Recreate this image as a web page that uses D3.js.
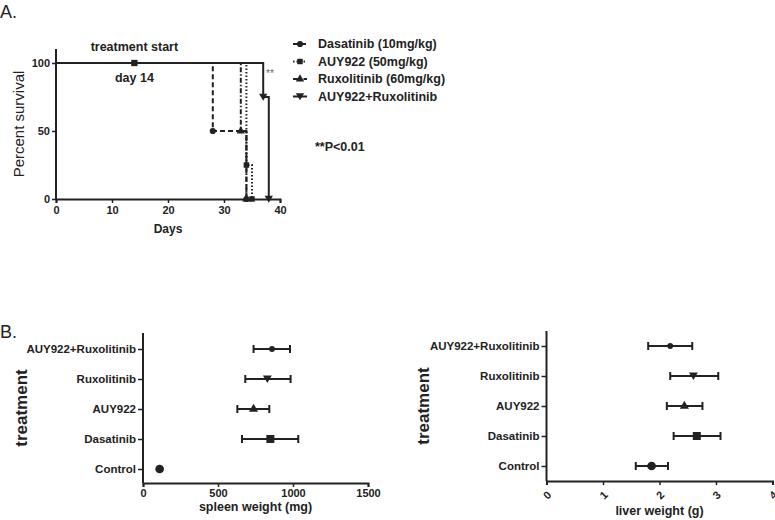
<!DOCTYPE html>
<html>
<head>
<meta charset="utf-8">
<script src="https://cdn.jsdelivr.net/npm/d3@7"></script>
<style>
  body { margin: 0; background: #fff; }
  svg { font-family: "Liberation Sans", Arial, sans-serif; }
  .axis path, .axis line { stroke: #222; stroke-width: 2px; }
  .axis text { font-size: 11px; font-weight: bold; fill: #222; }
  .lbl { font-weight: bold; fill: #222; }
</style>
</head>
<body>
<div class="chart"></div>
<script>
// survival data (panel A)
var survNames = ["Dasatinib (10mg/kg)", "AUY922 (50mg/kg)", "Ruxolitinib (60mg/kg)", "AUY922+Ruxolitinib"];
var survDays = [[0, 28, 34], [0, 34, 35], [0, 33, 34], [0, 37, 38]];
var survPct = [[100, 50, 0], [100, 25, 0], [100, 50, 0], [100, 75, 0]];
var survDash = ["5,3", "1.5,2", "5,2,1.5,2", null];
var dayTicks = [0, 10, 20, 30, 40];
var pctTicks = [0, 50, 100];
var startDay = 14;

// organ weights (panel B)
var treatments = ["Control", "Dasatinib", "AUY922", "Ruxolitinib", "AUY922+Ruxolitinib"];
var spleenMean = [111, 849, 737, 829, 860];
var spleenLow = [111, 660, 629, 682, 737];
var spleenHigh = [111, 1035, 842, 984, 980];
var spleenTicks = [0, 500, 1000, 1500];
var liverMean = [1.86, 2.66, 2.44, 2.60, 2.19];
var liverLow = [1.58, 2.25, 2.13, 2.19, 1.80];
var liverHigh = [2.15, 3.08, 2.76, 3.04, 2.58];
var liverTicks = [0, 1, 2, 3, 4];

var ink = "#222";
var triDown = {
    draw: function (ctx, size) {
        var r = Math.sqrt(size / 0.433) / 2;
        ctx.moveTo(-r, -r * 0.8);
        ctx.lineTo(r, -r * 0.8);
        ctx.lineTo(0, r * 0.9);
        ctx.closePath();
    }
};
var survSymbols = [d3.symbolCircle, d3.symbolSquare, d3.symbolTriangle, triDown];
var treatSymbols = [d3.symbolCircle, d3.symbolSquare, d3.symbolTriangle, triDown, d3.symbolCircle];
var treatSizes = [60, 64, 36, 34, 26];

var svg = d3.select(".chart").append("svg")
    .attr("width", 775)
    .attr("height", 520);

svg.append("text").attr("x", 0).attr("y", 18).style("font-size", "18px").style("fill", ink).text("A.");
svg.append("text").attr("x", 0).attr("y", 338).style("font-size", "18px").style("fill", ink).text("B.");

// ---------- panel A ----------
var x = d3.scaleLinear().domain([0, 40]).range([56, 280]);
var y = d3.scaleLinear().domain([0, 100]).range([199, 63]);

svg.append("g").attr("class", "axis")
    .attr("transform", "translate(0,199)")
    .call(d3.axisBottom(x).tickValues(dayTicks).tickFormat(d => d).tickSizeOuter(0).tickSize(4).tickPadding(3));

var gy = svg.append("g").attr("class", "axis")
    .attr("transform", "translate(56,0)")
    .call(d3.axisLeft(y).tickValues(pctTicks).tickFormat(d => d).tickSizeOuter(0).tickSize(4).tickPadding(2));
gy.select(".domain").attr("d", "M0," + y(0) + "V" + (y(100) - 14));
svg.selectAll(".axis line").style("stroke-width", "1.5px");

var stepLine = d3.line()
    .x(d => x(d[0]))
    .y(d => y(d[1]))
    .curve(d3.curveStepAfter);

survNames.forEach(function (name, i) {
    var pts = survDays[i].map((d, j) => [d, survPct[i][j]]);
    svg.append("path")
        .attr("d", stepLine(pts))
        .attr("fill", "none")
        .attr("stroke", ink)
        .attr("stroke-width", 2)
        .attr("stroke-dasharray", survDash[i]);
    svg.selectAll(null)
        .data(pts.slice(1))
        .enter()
        .append("path")
        .attr("transform", d => `translate(${x(d[0])},${y(d[1])})`)
        .attr("d", d3.symbol().type(survSymbols[i]).size(30))
        .attr("fill", ink);
});

svg.append("path")
    .attr("transform", `translate(${x(startDay)},${y(100)})`)
    .attr("d", d3.symbol().type(d3.symbolSquare).size(40))
    .attr("fill", ink);
svg.append("text").attr("class", "lbl").attr("x", x(startDay)).attr("y", 51)
    .attr("text-anchor", "middle").style("font-size", "12.5px").text("treatment start");
svg.append("text").attr("class", "lbl").attr("x", x(startDay)).attr("y", 82)
    .attr("text-anchor", "middle").style("font-size", "12.5px").text("day " + startDay);
svg.append("text").attr("x", 266).attr("y", 77)
    .style("font-size", "10px").style("fill", "#666").text("**");
svg.append("text").attr("class", "lbl").attr("x", 315).attr("y", 151)
    .style("font-size", "12.5px").text("**P<0.01");
svg.append("text").attr("class", "lbl").attr("x", 168).attr("y", 233)
    .attr("text-anchor", "middle").style("font-size", "12px").text("Days");
svg.append("text")
    .attr("transform", "translate(24,124) rotate(-90)")
    .attr("text-anchor", "middle")
    .style("font-size", "15px").style("fill", ink)
    .text("Percent survival");

// legend
var legend = svg.selectAll(".leg")
    .data(survNames)
    .enter()
    .append("g")
    .attr("transform", (d, i) => `translate(293,${44 + i * 17.5})`);
legend.append("line")
    .attr("x1", 0).attr("x2", 14)
    .attr("stroke", ink).attr("stroke-width", 2)
    .attr("stroke-dasharray", (d, i) => survDash[i]);
legend.append("path")
    .attr("transform", "translate(7,0)")
    .attr("d", (d, i) => d3.symbol().type(survSymbols[i]).size(30)())
    .attr("fill", ink);
legend.append("text")
    .attr("class", "lbl")
    .attr("x", 25).attr("dy", "0.35em")
    .style("font-size", "12.5px")
    .text(d => d);

// ---------- panel B ----------
function dotPlot(opt) {
    var xs = d3.scaleLinear().domain(opt.domain).range(opt.xr);
    var ys = d3.scalePoint().domain(treatments).range(opt.yr);

    var ax = svg.append("g").attr("class", "axis")
        .attr("transform", `translate(0,${opt.base})`)
        .call(d3.axisBottom(xs).tickValues(opt.ticks).tickFormat(d => d).tickSizeOuter(0).tickSize(4).tickPadding(2));
    if (opt.rotate) {
        ax.selectAll("text")
            .attr("dy", null).attr("y", null)
            .attr("text-anchor", "middle")
            .attr("transform", "translate(0,14) rotate(-45)")
            .attr("dominant-baseline", "central");
    }
    var ay = svg.append("g").attr("class", "axis")
        .attr("transform", `translate(${opt.xr[0]},0)`)
        .call(d3.axisLeft(ys).tickSizeOuter(0).tickSize(5).tickPadding(2));
    ay.select(".domain").attr("d", `M0,${opt.base}V${opt.top}`);
    ay.selectAll("text").style("font-size", "11.5px");
    svg.selectAll(".axis line").style("stroke-width", "1.5px");

    var rows = treatments.map((t, i) => ({
        t: t, i: i, m: opt.mean[i], lo: opt.low[i], hi: opt.high[i]
    }));
    var g = svg.append("g");
    var bars = rows.filter(d => d.hi > d.lo);
    g.selectAll(".eb").data(bars).enter().append("path")
        .attr("d", d => `M${xs(d.lo)},${ys(d.t)}H${xs(d.hi)}` +
            `M${xs(d.lo)},${ys(d.t) - 4}V${ys(d.t) + 4}` +
            `M${xs(d.hi)},${ys(d.t) - 4}V${ys(d.t) + 4}`)
        .attr("fill", "none").attr("stroke", ink).attr("stroke-width", 2);
    g.selectAll(".pt").data(rows).enter().append("path")
        .attr("transform", d => `translate(${xs(d.m)},${ys(d.t)})`)
        .attr("d", d => d3.symbol().type(treatSymbols[d.i]).size(treatSizes[d.i])())
        .attr("fill", ink);

    svg.append("text").attr("class", "lbl")
        .attr("x", (opt.xr[0] + opt.xr[1]) / 2).attr("y", opt.titleY)
        .attr("text-anchor", "middle").style("font-size", "12.5px")
        .text(opt.title);
    svg.append("text").attr("class", "lbl")
        .attr("transform", `translate(${opt.yLabelX},${(opt.top + opt.base) / 2}) rotate(-90)`)
        .attr("text-anchor", "middle").style("font-size", "17px")
        .text("treatment");
}

dotPlot({
    domain: [0, 1500], xr: [143, 368], yr: [469, 349], base: 483, top: 333,
    ticks: spleenTicks, mean: spleenMean, low: spleenLow, high: spleenHigh,
    title: "spleen weight (mg)", titleY: 511, yLabelX: 27, rotate: false
});
dotPlot({
    domain: [0, 4], xr: [546.5, 772.5], yr: [466, 346], base: 481, top: 331,
    ticks: liverTicks, mean: liverMean, low: liverLow, high: liverHigh,
    title: "liver weight (g)", titleY: 515, yLabelX: 429, rotate: true
});
</script>
</body>
</html>
